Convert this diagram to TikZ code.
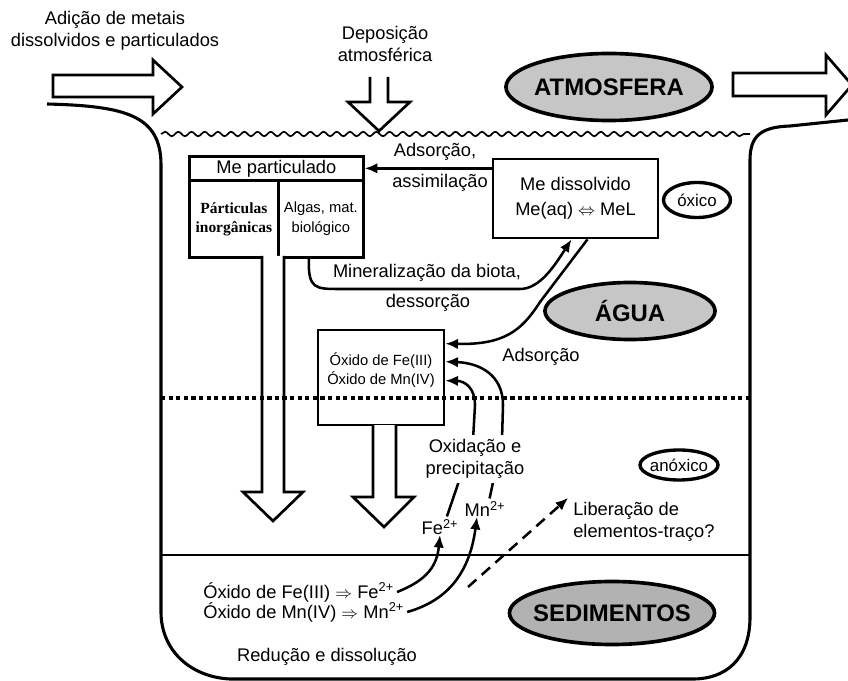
\documentclass[tikz,border=0pt]{standalone}
\usepackage{fontspec}
\setmainfont{Liberation Sans}
\newfontfamily\serifbold{Liberation Serif}
\usetikzlibrary{shapes.geometric,arrows.meta,decorations.pathmorphing}
\begin{document}
\begin{tikzpicture}[x=.025cm,y=-.025cm,
	txt/.style={font=\fontsize{13}{16}\selectfont,align=center,inner sep=0pt},
	small/.style={font=\fontsize{10.5}{14}\selectfont,align=center,inner sep=0pt},
	region/.style={ellipse,draw,line width=2.6pt,fill=gray!45},
	regtext/.style={font=\fontsize{17}{20}\selectfont\bfseries,inner sep=0pt},
	zone/.style={ellipse,draw,line width=2.4pt},
	zonetext/.style={font=\fontsize{12}{14}\selectfont,inner sep=0pt},
	cellbox/.style={draw,line width=1.9pt,inner sep=0pt},
	hollow/.style={draw,line width=1.9pt,fill=white},
	conn/.style={line width=1.8pt,-{Latex[length=9pt,width=7.5pt]}}]
	\useasboundingbox (0,0) rectangle (848,681);
	\draw[line width=2.2pt] (47,104)..controls (125,106) and (161,115)..(161,165)--(161,612)
		..controls (161,650) and (190,677)..(230,679)--(693,679)..controls (725,679) and (750,660)..(750,617)
		--(750,160)..controls (750,135) and (762,127)..(790,126)--(848,120);
	\draw[line width=1.2pt,decorate,decoration={snake,amplitude=.055cm,segment length=.33cm}] (161,134)--(750,134);
	\draw[line width=1.9pt] (161,555)--(750,555);
	\draw[hollow] (53,75)--(153,75)--(153,60)--(182,87)--(153,114)--(153,97)--(53,97)--cycle;
	\draw[hollow] (370,77)--(370,102)--(348,102)--(379,131)--(410,102)--(388,102)--(388,77);
	\draw[hollow] (733,73)--(826,73)--(826,55)--(852,85)--(826,115)--(826,96)--(733,96)--cycle;
	\node[txt] (adicao) at (115,31) {Adição de metais\\dissolvidos e particulados};
	\node[txt] (depos) at (385,44) {Deposição\\atmosférica};
	\node[region,minimum width=5.15cm,minimum height=1.675cm,label={[regtext]center:ATMOSFERA}] (atm) at (609,87) {};
	\node[region,minimum width=4.25cm,minimum height=1.425cm,label={[regtext]center:ÁGUA}] (agua) at (630,311) {};
	\node[region,fill=gray!60,minimum width=5.125cm,minimum height=1.575cm,label={[regtext]center:SEDIMENTOS}] (sed) at (612,613) {};
	\node[zone,minimum width=1.675cm,minimum height=.875cm,label={[zonetext]center:óxico}] (oxico) at (697,200) {};
	\node[zone,minimum width=1.95cm,minimum height=.75cm,label={[zonetext]center:anóxico}] (anoxico) at (679,465) {};
	\node[cellbox,txt,minimum width=4.35cm,minimum height=.6cm,anchor=north west] (parthead) at (188,155) {Me particulado};
	\node[cellbox,minimum width=2.225cm,minimum height=1.925cm,anchor=north west,align=center,fill=white,
		font=\fontsize{11}{13.5}\selectfont\serifbold\bfseries] (inorg) at (188,179) {Párticulas\\inorgânicas};
	\node[cellbox,small,minimum width=2.125cm,minimum height=1.925cm,anchor=north west] (algas) at (277,179) {Algas, mat.\\biológico};
	\node[cellbox,txt,font=\fontsize{13}{18}\selectfont,minimum width=4.125cm,minimum height=1.975cm] (medis) at (575.5,198.5) {Me dissolvido\\Me(aq) $\Leftrightarrow$ MeL};
	\node[cellbox,minimum width=3.15cm,minimum height=2.375cm] (oxbox) at (381,377.5) {};
	\node[small] (oxtext) at (381,370) {Óxido de Fe(III)\\Óxido de Mn(IV)};
	\draw[hollow] (262,256)--(262,492)--(243,492)--(273,521)--(303,492)--(284,492)--(284,256);
	\draw[hollow] (373,425)--(373,497)--(353,497)--(384,527)--(414,497)--(396,497)--(396,425);
	\draw[line width=2.4pt,dash pattern=on 3pt off 2.4pt] (161,398)--(750,398);
	\draw[conn] (medis.west |- parthead.east)--(parthead.east);
	\node[txt] (adsA) at (435,152) {Adsorção,};
	\node[txt] (assim) at (440,183) {assimilação};
	\draw[conn] ([xshift=-.3cm]algas.south)..controls (308,289) and (315,289)..(340,289)--(520,289)
		..controls (540,289) and (555,265)..([xshift=-.1cm]medis.south);
	\node[txt] (miner) at (427,273) {Mineralização da biota,};
	\node[txt] (dessor) at (428,303) {dessorção};
	\draw[conn] ([xshift=.3cm]medis.south)--(540,302)..controls (522,330) and (505,345)..([yshift=-.375cm]oxbox.north east);
	\node[txt] (adsB) at (541,357) {Adsorção};
	\node[txt] (fe2) at (440,527) {Fe\textsuperscript{2+}};
	\node[txt] (mn2) at (485,509) {Mn\textsuperscript{2+}};
	\draw[conn,shorten <=2pt] ([xshift=.15cm]fe2.north)--(473,440)--(475,405)..controls (475,388) and (465,381)..([yshift=-1.3cm]oxbox.north east);
	\draw[conn,shorten <=2pt] ([xshift=.1cm]mn2.north)--(502,440)--(503,405)..controls (503,375) and (480,363)..([yshift=-.825cm]oxbox.north east);
	\node[txt,fill=white,inner sep=3pt] (oxid) at (475,459) {Oxidação e\\precipitação};
	\node[txt,align=left,anchor=west] (redfe) at (203,592) {Óxido de Fe(III) $\Rightarrow$ Fe\textsuperscript{2+}};
	\node[txt,align=left,anchor=west] (redmn) at (203,612) {Óxido de Mn(IV) $\Rightarrow$ Mn\textsuperscript{2+}};
	\node[txt] (redu) at (327,657) {Redução e dissolução};
	\draw[conn] ([xshift=2pt]redfe.east)..controls (428,580) and (437,565)..(fe2.south);
	\draw[conn] ([xshift=2pt]redmn.east)..controls (450,600) and (470,570)..([xshift=-.2cm]mn2.south);
	\node[txt,align=left,anchor=west] (lib) at (573,522) {Liberação de\\elementos-traço?};
	\coordinate (relstart) at (468,587);
	\draw[conn,dash pattern=on 8pt off 5pt] (relstart)--([xshift=-.12cm,yshift=.1cm]lib.north west);
\end{tikzpicture}
\end{document}
